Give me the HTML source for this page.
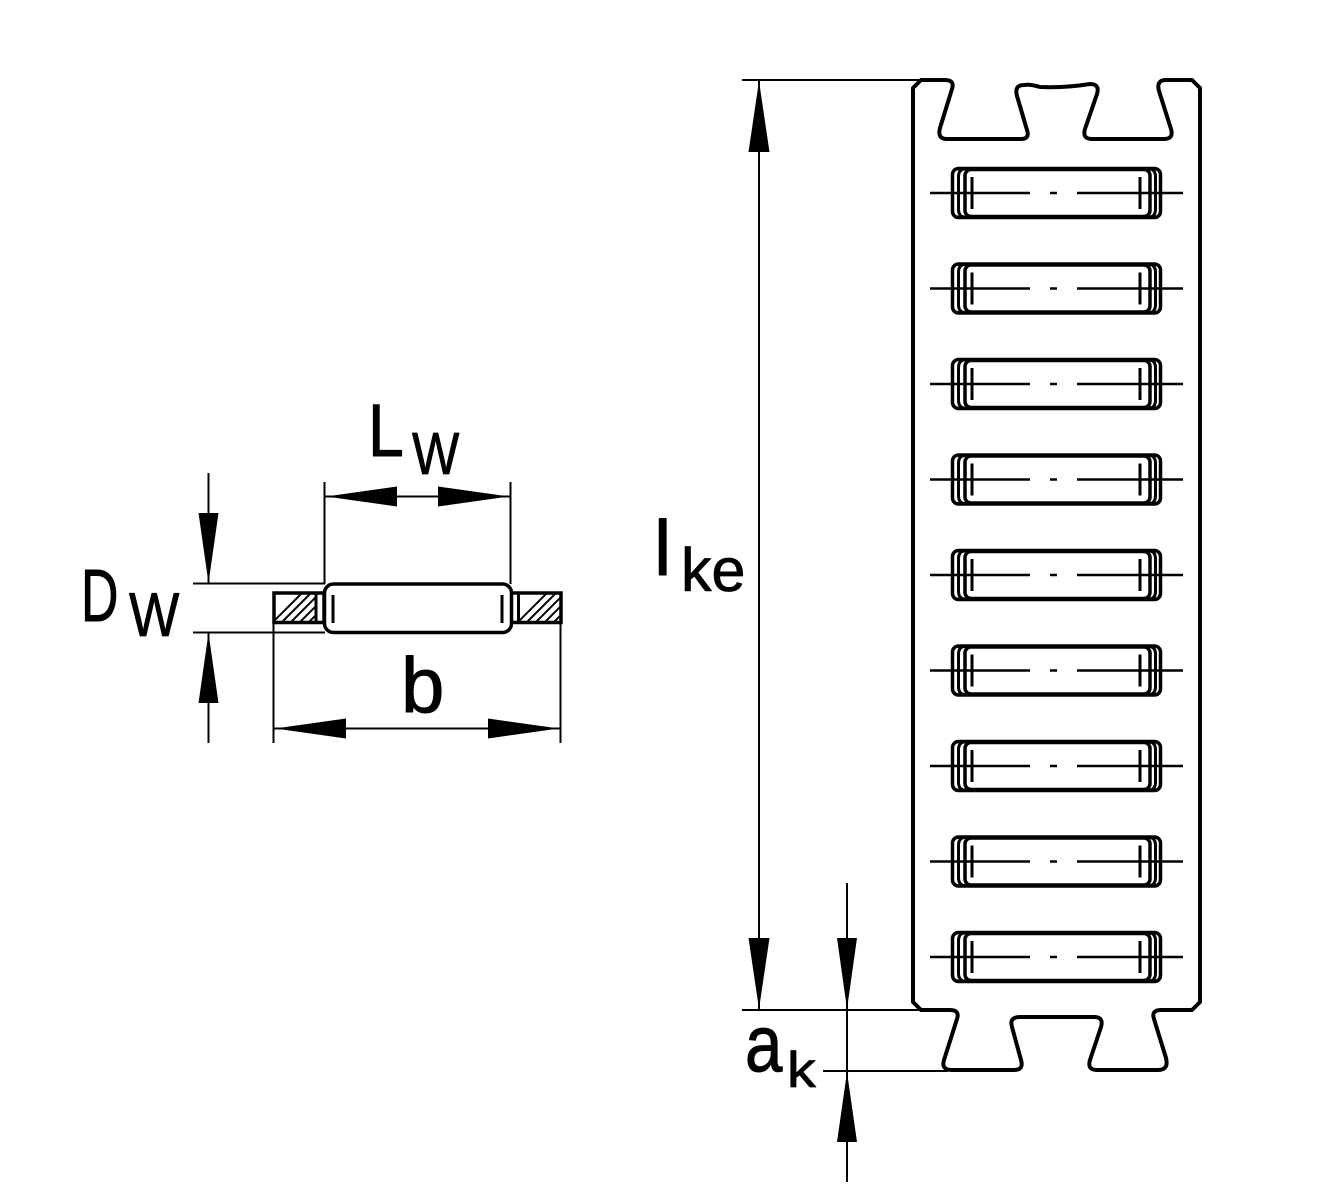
<!DOCTYPE html>
<html>
<head>
<meta charset="utf-8">
<style>
html,body{margin:0;padding:0;background:#fff;}
svg{display:block;}
text{font-family:"Liberation Sans",sans-serif;fill:#000;stroke:#000;stroke-width:1;stroke-linejoin:round;}
text.s{stroke-width:0.8;}
</style>
</head>
<body>
<svg width="1330" height="1200" viewBox="0 0 1330 1200" xmlns="http://www.w3.org/2000/svg">
<defs>
<clipPath id="hl"><rect x="275" y="594.5" width="40" height="27"/></clipPath>
<clipPath id="hr"><rect x="520" y="594.5" width="39.5" height="27"/></clipPath>
</defs>

<!-- ============ LEFT DIAGRAM ============ -->
<g fill="none" stroke="#000">
  <g stroke-width="2" clip-path="url(#hl)">
    <line x1="265" y1="630" x2="305" y2="590"/>
    <line x1="274" y1="630" x2="314" y2="590"/>
    <line x1="283" y1="630" x2="323" y2="590"/>
    <line x1="292" y1="630" x2="332" y2="590"/>
    <line x1="301" y1="630" x2="341" y2="590"/>
    <line x1="310" y1="630" x2="350" y2="590"/>
  </g>
  <g stroke-width="2" clip-path="url(#hr)">
    <line x1="510" y1="630" x2="550" y2="590"/>
    <line x1="519" y1="630" x2="559" y2="590"/>
    <line x1="528" y1="630" x2="568" y2="590"/>
    <line x1="537" y1="630" x2="577" y2="590"/>
    <line x1="546" y1="630" x2="586" y2="590"/>
    <line x1="555" y1="630" x2="595" y2="590"/>
  </g>
  <rect x="274" y="593" width="50" height="29.5" stroke-width="3.5"/>
  <line x1="316" y1="593" x2="316" y2="622.5" stroke-width="3"/>
  <rect x="511" y="593" width="50" height="29.5" stroke-width="3.5"/>
  <line x1="518.5" y1="593" x2="518.5" y2="622.5" stroke-width="3"/>
  <rect x="324.5" y="584" width="187" height="48.5" rx="9" fill="#fff" stroke-width="3.5"/>
  <line x1="333" y1="595" x2="333" y2="623" stroke-width="3"/>
  <line x1="502" y1="595" x2="502" y2="623" stroke-width="3"/>

  <g stroke-width="2">
    <line x1="193" y1="583.5" x2="325" y2="583.5"/>
    <line x1="193" y1="632.5" x2="325" y2="632.5"/>
    <line x1="208.5" y1="473" x2="208.5" y2="583"/>
    <line x1="208.5" y1="633" x2="208.5" y2="743"/>
    <line x1="324.5" y1="482" x2="324.5" y2="584"/>
    <line x1="510.5" y1="482" x2="510.5" y2="584"/>
    <line x1="325" y1="496.5" x2="510" y2="496.5"/>
    <line x1="273.5" y1="622" x2="273.5" y2="743"/>
    <line x1="560.5" y1="622" x2="560.5" y2="743"/>
    <line x1="274" y1="728.5" x2="560" y2="728.5"/>
  </g>
</g>
<g fill="#000" stroke="none">
  <polygon points="208.5,583 198.5,513 218.5,513"/>
  <polygon points="208.5,633 198.5,703 218.5,703"/>
  <polygon points="326,496.5 397,486.5 397,506.5"/>
  <polygon points="509,496.5 438,486.5 438,506.5"/>
  <polygon points="275,728.5 346,718.5 346,738.5"/>
  <polygon points="559,728.5 488,718.5 488,738.5"/>
</g>

<text transform="translate(368,456) scale(0.87,1)" font-size="74">L</text>
<text class="s" transform="translate(412,474) scale(0.85,1)" font-size="59">W</text>
<text transform="translate(81,621) scale(0.7,1)" font-size="74">D</text>
<text class="s" transform="translate(129,636) scale(0.86,1)" font-size="62">W</text>
<text transform="translate(401,712)" font-size="78">b</text>

<!-- ============ RIGHT DIAGRAM ============ -->
<path fill="none" stroke="#000" stroke-width="4" stroke-linejoin="round" d="
M 913,1002 L 913,88 L 921,80 L 945,80
Q 955,80 952,89 L 940,128 Q 937,139 947,139
L 1021,139 Q 1030,139 1027,130 L 1017,96 Q 1014,85 1024,85
Q 1030,84 1040,87 Q 1065,88 1090,84
Q 1100,84 1097,94 L 1085,129 Q 1082,139 1092,139
L 1164,139 Q 1174,139 1171,129 L 1159,91 Q 1156,80 1166,80
L 1192,80 L 1200,88 L 1200,1002 L 1192,1010
L 1161,1010 Q 1151,1010 1154,1019 L 1166,1058 Q 1169,1070 1158,1070
L 1097,1070 Q 1087,1070 1090,1060 L 1101,1027 Q 1104,1017 1094,1017
L 1020,1017 Q 1009,1017 1012,1027 L 1021,1060 Q 1024,1070 1014,1070
L 952,1070 Q 941,1070 944,1060 L 957,1019 Q 960,1010 950,1010
L 921,1010 Z"/>

<g fill="none" stroke="#000">
  <g id="r0" transform="translate(0,193)">
    <rect x="952.5" y="-24.5" width="208" height="49" rx="6" stroke-width="3.5"/>
    <path d="M 965,-24 Q 958.5,-24 958.5,-16 L 958.5,16 Q 958.5,24 965,24" stroke-width="3"/>
    <path d="M 1149,-24 Q 1155.5,-24 1155.5,-16 L 1155.5,16 Q 1155.5,24 1149,24" stroke-width="3"/>
    <rect x="965" y="-23.5" width="185" height="47" rx="6" stroke-width="3.5"/>
    <line x1="972" y1="-16" x2="972" y2="16" stroke-width="3"/>
    <line x1="1140" y1="-16" x2="1140" y2="16" stroke-width="3"/>
    <line x1="930" y1="0" x2="1030" y2="0" stroke-width="2.5"/>
    <line x1="1050" y1="0" x2="1057" y2="0" stroke-width="2.5"/>
    <line x1="1077" y1="0" x2="1183" y2="0" stroke-width="2.5"/>
  </g>
  <use href="#r0" transform="translate(0,95.5)"/>
  <use href="#r0" transform="translate(0,191)"/>
  <use href="#r0" transform="translate(0,286.5)"/>
  <use href="#r0" transform="translate(0,382)"/>
  <use href="#r0" transform="translate(0,477.5)"/>
  <use href="#r0" transform="translate(0,573)"/>
  <use href="#r0" transform="translate(0,668.5)"/>
  <use href="#r0" transform="translate(0,764)"/>
</g>

<g fill="none" stroke="#000" stroke-width="2">
  <line x1="742" y1="80" x2="920" y2="80"/>
  <line x1="759" y1="80" x2="759" y2="1010"/>
  <line x1="742" y1="1010" x2="921" y2="1010"/>
  <line x1="847" y1="883" x2="847" y2="1182"/>
  <line x1="823" y1="1071" x2="948" y2="1071"/>
</g>
<g fill="#000" stroke="none">
  <polygon points="759,81 748.5,152 769.5,152"/>
  <polygon points="759,1009 748.5,938 769.5,938"/>
  <polygon points="847,1009 837,938 857,938"/>
  <polygon points="847,1072 837,1142 857,1142"/>
</g>

<text transform="translate(654,575)" font-size="78">l</text>
<text class="s" transform="translate(681,591)" font-size="61">ke</text>
<text transform="translate(745,1071) scale(0.84,1)" font-size="80">a</text>
<text class="s" transform="translate(787,1087) scale(1.15,1)" font-size="50">k</text>
</svg>
</body>
</html>
